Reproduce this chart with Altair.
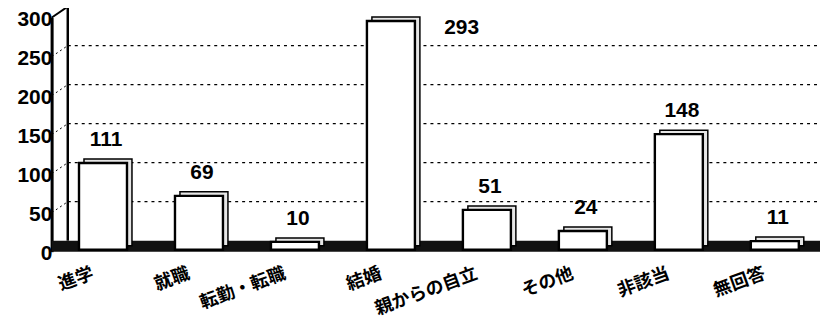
import altair as alt
import pandas as pd

categories = ["進学", "就職", "転勤・転職", "結婚", "親からの自立", "その他", "非該当", "無回答"]
values = [111, 69, 10, 293, 51, 24, 148, 11]
grid_values = [50, 100, 150, 200, 250]
y_ticks = [0, 50, 100, 150, 200, 250, 300]

df = pd.DataFrame({"cat": categories, "val": values})
gdf = pd.DataFrame({"g": grid_values})
one = pd.DataFrame({"a": [0]})

W = 761
H = 235
DX, DY = 16, -11  # back-wall depth

xenc = alt.X("cat:N", sort=categories,
             scale=alt.Scale(paddingInner=0.5, paddingOuter=0.2),
             axis=alt.Axis(title=None, domain=False, ticks=False, labelAngle=-20,
                           labelAlign="right", labelBaseline="top", labelPadding=13,
                           labelOffset=-5, labelFont="Noto Sans CJK JP", labelFontSize=18,
                           labelFontWeight="bold", labelColor="black", labelOverlap=False))
yscale = alt.Scale(domain=[0, 300], nice=False)
yaxis = alt.Axis(title=None, values=y_ticks, grid=False, ticks=False,
                 domain=True, domainColor="black", domainWidth=2.5,
                 labelFont="Liberation Sans", labelFontSize=21, labelOverlap=False,
                 labelFlush=False, labelOffset=2,
                 labelFontWeight="bold", labelColor="black", labelPadding=0)
yenc = alt.Y("val:Q", scale=yscale, axis=yaxis)

# back-wall dashed grid lines
grid = alt.Chart(gdf).mark_rule(color="black", strokeWidth=1.3, strokeDash=[3, 4],
                                yOffset=DY).encode(
    y=alt.Y("g:Q", scale=yscale, axis=yaxis),
    x=alt.value(DX), x2=alt.value(W + DX))
# side-wall dotted diagonals
diag = alt.Chart(gdf).mark_rule(color="black", strokeWidth=1, strokeDash=[2, 3],
                                y2Offset=DY).encode(
    y=alt.Y("g:Q", scale=yscale, axis=yaxis), y2="g:Q",
    x=alt.value(0), x2=alt.value(DX))

# wall frame
top_line = alt.Chart(one).mark_rule(color="black", strokeWidth=2.5, yOffset=DY).encode(
    y=alt.datum(300, scale=yscale, axis=yaxis), x=alt.value(DX), x2=alt.value(W + DX))
back_left = alt.Chart(one).mark_rule(color="black", strokeWidth=2.5, yOffset=DY, y2Offset=DY).encode(
    y=alt.datum(0, scale=yscale, axis=yaxis), y2=alt.datum(300), x=alt.value(DX))
front_left = alt.Chart(one).mark_rule(color="black", strokeWidth=2.5).encode(
    y=alt.datum(0, scale=yscale, axis=yaxis), y2=alt.datum(300), x=alt.value(0))
top_diag = alt.Chart(one).mark_rule(color="black", strokeWidth=2, y2Offset=DY).encode(
    y=alt.datum(300, scale=yscale, axis=yaxis), y2=alt.datum(300), x=alt.value(0), x2=alt.value(DX))
floor = alt.Chart(one).mark_rect(color="#111111", y2Offset=DY).encode(
    y=alt.datum(0, scale=yscale, axis=yaxis), y2=alt.datum(0), x=alt.value(0), x2=alt.value(W + DX))

# 3-D bars: depth box then front face
depth = alt.Chart(df).mark_bar(fill="#e6e6e6", stroke="black", strokeWidth=1.5,
                               xOffset=13, x2Offset=13, yOffset=-6, y2Offset=-6).encode(
    x=xenc, y=yenc)
front = alt.Chart(df).mark_bar(fill="white", stroke="black", strokeWidth=2.4,
                               xOffset=8, x2Offset=8, yOffset=-2, y2Offset=-2).encode(
    x=xenc, y=yenc)

labels = alt.Chart(df).transform_filter("datum.val < 250").mark_text(
    font="Liberation Sans", fontSize=21, fontWeight="bold", color="black",
    baseline="middle", dx=11, dy=-25).encode(x=xenc, y=yenc, text="val:Q")
labels_hi = alt.Chart(df).transform_filter("datum.val >= 250").mark_text(
    font="Liberation Sans", fontSize=21, fontWeight="bold", color="black",
    baseline="middle", dx=79, dy=5).encode(x=xenc, y=yenc, text="val:Q")

chart = alt.layer(grid, diag, top_line, back_left, front_left, top_diag, floor, depth, front,
                  labels, labels_hi).properties(
    width=W, height=H,
    autosize=alt.AutoSizeParams(type="none"),
    padding={"left": 44, "top": 9, "right": 10, "bottom": 68},
    background="white",
).configure_view(stroke=None)

chart.save("out.html", embed_options={"renderer": "svg", "actions": False})
